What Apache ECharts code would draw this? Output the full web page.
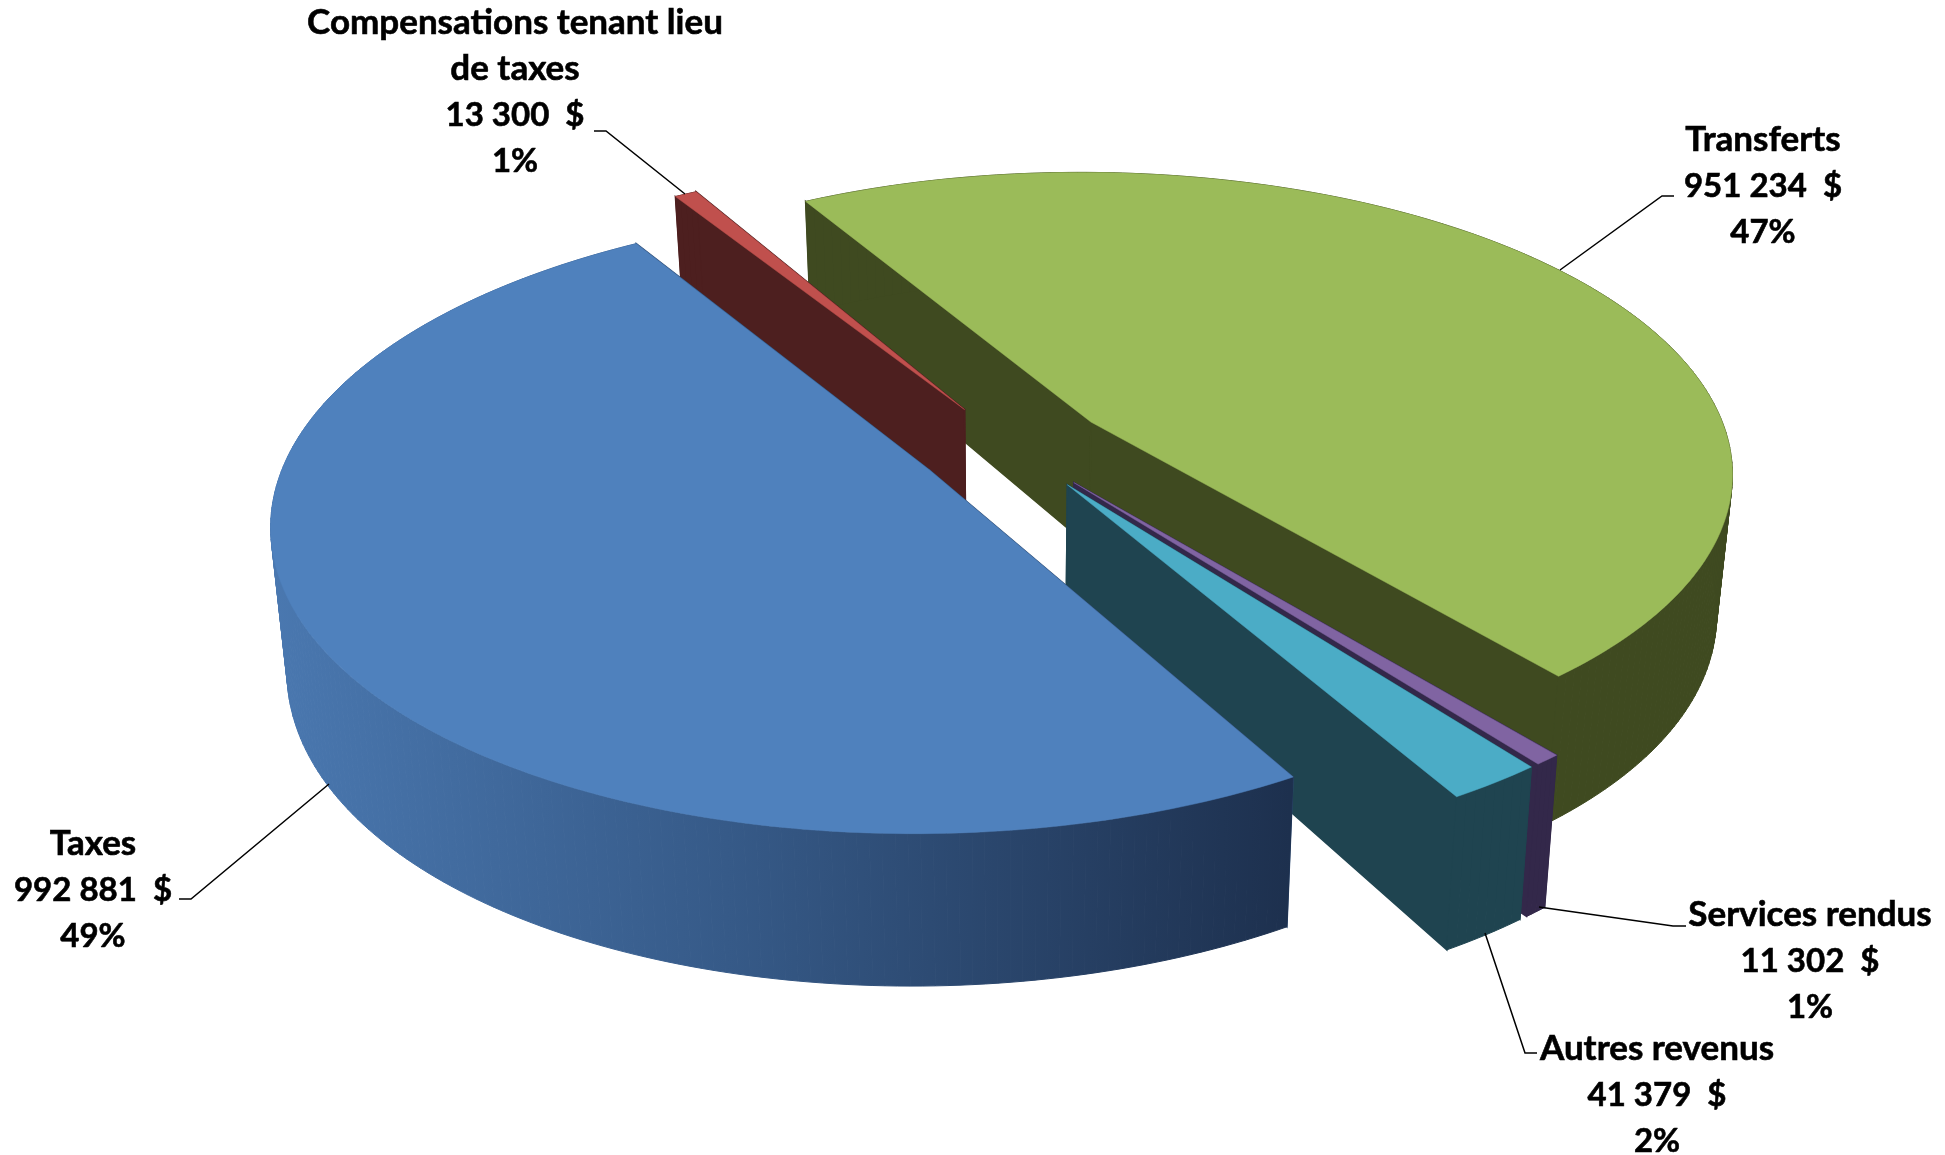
<!DOCTYPE html>
<html>
<head>
    <meta charset="utf-8">
    <title>Revenus</title>
    <script src="https://cdn.jsdelivr.net/npm/echarts@6/dist/echarts.min.js"></script>
    <style>
        html, body { margin: 0; background: #fff; }
        #main { width: 1945px; height: 1155px; }
    </style>
</head>
<body>
<div id="main"></div>

<script type="text/javascript">
    var categories = ['Taxes', 'Compensations tenant lieu\nde taxes', 'Transferts', 'Services rendus', 'Autres revenus'];
    var amounts = [992881, 13300, 951234, 11302, 41379];
    var amountLabels = ['992 881  $', '13 300  $', '951 234  $', '11 302  $', '41 379  $'];
    var percentLabels = ['49%', '1%', '47%', '1%', '2%'];

    var topColors = ['#4F81BD', '#C0504D', '#9BBB59', '#8064A2', '#4BACC6'];
    var wallColors = ['#2F4D75', '#4D1F1F', '#3F4A20', '#33284A', '#1F4450'];

    // fake 3D view, the same look as the old Excel pie
    var view = {
        ox: 1013, oy: 447,      // pie centre on screen
        f: 640, a: 297,         // horizontal and vertical scale of the disc
        k: 0.16,                // perspective
        depth: 126,             // wall height at the centre
        sideDepth: 10,          // walls are a bit taller at the sides
        shrink: 0.978,          // bottom face is a bit narrower
        explode: 0.15,
        startAngle: -60         // first slice starts here, going clockwise
    };
    var paintOrder = [4, 1, 0, 2, 3]; // Taxes is painted last
    var labelSpots = [
        {x: 93, y: 890, line: [[179, 899], [191, 899], [329, 784]]},
        {x: 515, y: 92, line: [[594, 131], [606, 131], [685, 194]]},
        {x: 1763, y: 186, line: [[1674, 196], [1662, 196], [1560, 270]]},
        {x: 1810, y: 961, line: [[1686, 926], [1673, 926], [1539, 907]]},
        {x: 1657, y: 1095, line: [[1537, 1053], [1525, 1053], [1485, 933]]}
    ];

    var total = amounts.reduce(function (s, v) { return s + v; }, 0);

    function project(u, v, low) {
        var w = 1 + view.k * v;
        return [
            view.ox + view.f * u * (low ? view.shrink : 1) / w,
            view.oy - view.a * v / w + (low ? view.depth / w + view.sideDepth * u * u : 0)
        ];
    }

    function labelText(i) {
        var lines = categories[i].split('\n').map(function (t) { return '{name|' + t + '}'; });
        lines.push('{num|' + amountLabels[i] + '}');
        lines.push('{num|' + percentLabels[i] + '}');
        return lines.join('\n');
    }

    function renderSlice(params, api) {
        var i = params.dataIndex;
        var before = 0;
        for (var n = 0; n < i; n++) before += amounts[n];
        var sweep = api.value(0) / total * 2 * Math.PI;
        var a0 = view.startAngle * Math.PI / 180 - before / total * 2 * Math.PI;
        var mid = a0 - sweep / 2;
        var cu = view.explode * Math.cos(mid);
        var cv = view.explode * Math.sin(mid);

        var topArc = [], lowArc = [];
        var steps = Math.max(4, Math.ceil(sweep * 60));
        for (var s = 0; s <= steps; s++) {
            var a = a0 - sweep * s / steps;
            var u = cu + Math.cos(a), v = cv + Math.sin(a);
            topArc.push(project(u, v, false));
            lowArc.push(project(u, v, true));
        }
        var apexTop = project(cu, cv, false);
        var apexLow = project(cu, cv, true);

        var wallFill = wallColors[i];
        if (i === 0) {
            wallFill = new echarts.graphic.LinearGradient(267, 0, 1290, 0, [
                {offset: 0, color: '#4A78B0'},
                {offset: 0.45, color: '#365A88'},
                {offset: 1, color: '#1D304E'}
            ], true);
        }
        var z = paintOrder[i] * 5;
        var poly = function (points, fill, z2, width) {
            return {type: 'polygon', z2: z2, shape: {points: points}, style: {fill: fill, stroke: fill, lineWidth: width}, silent: true};
        };
        var cutA = [apexTop, topArc[0], lowArc[0], apexLow];
        var cutB = [apexTop, topArc[steps], lowArc[steps], apexLow];

        var spot = labelSpots[i];
        var children = [
            poly(cutA, wallColors[i], z, 1.5),
            poly(cutB, wallColors[i], z, 1.5)
        ];
        // the wall goes in small quads, one big polygon would leave out the
        // straight edges at the far left and right of the pie
        for (var q = 0; q < steps; q++) {
            children.push(poly([topArc[q], topArc[q + 1], lowArc[q + 1], lowArc[q]], wallFill, z + 1, 1));
        }
        children.push(poly([apexTop].concat(topArc), topColors[i], z + 2, 0.5));
        children.push({
            type: 'polyline', z2: 100, silent: true,
            shape: {points: spot.line},
            style: {stroke: '#000', lineWidth: 1.5, fill: null}
        });
        children.push({
            type: 'text', z2: 101, silent: true,
            style: {
                x: spot.x, y: spot.y,
                text: labelText(i),
                align: 'center', verticalAlign: 'middle',
                rich: {
                    name: {font: 'bold 35px Lato', lineHeight: 46, fill: '#000', stroke: '#000', lineWidth: 0.6, align: 'center'},
                    num: {font: 'bold 33px Lato', lineHeight: 46, fill: '#000', stroke: '#000', lineWidth: 0.6, align: 'center'}
                }
            }
        });
        return {type: 'group', children: children};
    }

    var myChart = echarts.init(document.getElementById('main'));
    myChart.setOption({
        animation: false,
        backgroundColor: '#fff',
        series: [{
            type: 'custom',
            coordinateSystem: 'none',
            renderItem: renderSlice,
            clip: false,
            data: amounts.map(function (v) { return [v]; })
        }]
    });
</script>
</body>
</html>
